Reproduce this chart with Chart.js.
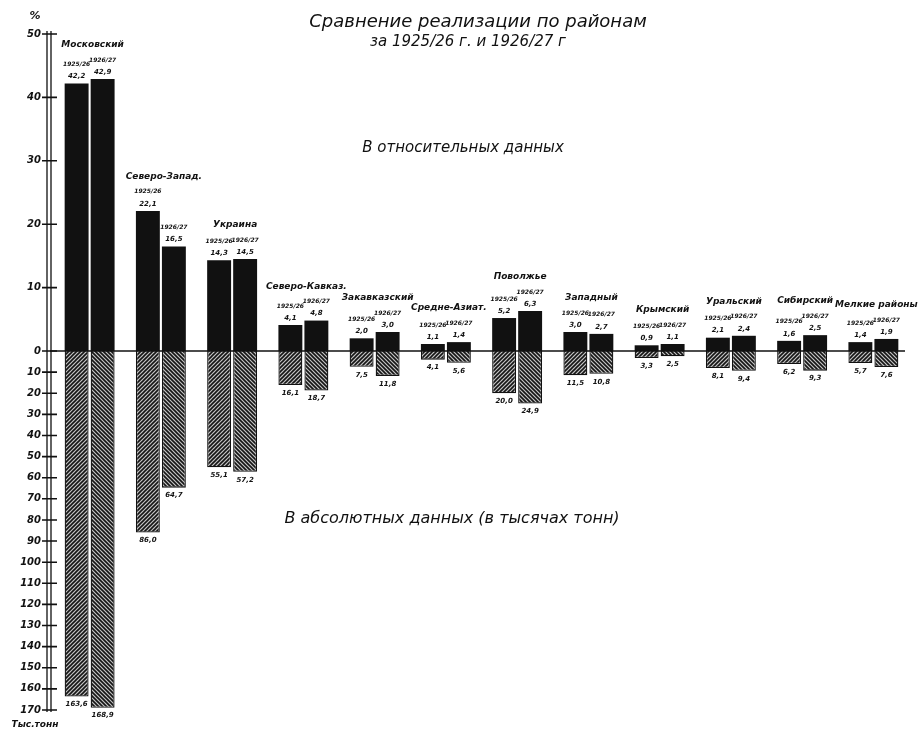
<!DOCTYPE html>
<html lang="ru">
<head>
<meta charset="utf-8">
<title>Сравнение реализации по районам</title>
<script src="https://cdn.jsdelivr.net/npm/chart.js@4.4.1/dist/chart.umd.min.js"></script>
<style>
  html, body { margin: 0; padding: 0; background: #fff; }
  #wrap { position: relative; width: 922px; height: 732px; }
</style>
</head>
<body>
<div id="wrap"><canvas id="chart"></canvas></div>
<script>
'use strict';

// районы
const regions = ['Московский', 'Северо-Запад.', 'Украина', 'Северо-Кавказ.', 'Закавказский', 'Средне-Азиат.',
  'Поволжье', 'Западный', 'Крымский', 'Уральский', 'Сибирский', 'Мелкие районы'];
const years = ['1925/26', '1926/27'];

// в относительных данных, %
const rel2526 = [42.2, 22.1, 14.3, 4.1, 2.0, 1.1, 5.2, 3.0, 0.9, 2.1, 1.6, 1.4];
const rel2627 = [42.9, 16.5, 14.5, 4.8, 3.0, 1.4, 6.3, 2.7, 1.1, 2.4, 2.5, 1.9];

// в абсолютных данных, тыс. тонн
const abs2526 = [163.6, 86.0, 55.1, 16.1, 7.5, 4.1, 20.0, 11.5, 3.3, 8.1, 6.2, 5.7];
const abs2627 = [168.9, 64.7, 57.2, 18.7, 11.8, 5.6, 24.9, 10.8, 2.5, 9.4, 9.3, 7.6];

const pctTicks = [0, 10, 20, 30, 40, 50];
const tonTicks = [0, 10, 20, 30, 40, 50, 60, 70, 80, 90, 100, 110, 120, 130, 140, 150, 160, 170];

const INK = '#111';
const FONT = '"DejaVu Sans", sans-serif';

function hatch(dir) {
  const c = document.createElement('canvas');
  c.width = c.height = 4;
  const g = c.getContext('2d');
  g.fillStyle = '#c4c4c4';
  g.fillRect(0, 0, 4, 4);
  g.strokeStyle = '#151515';
  g.lineWidth = 1.6;
  g.beginPath();
  if (dir > 0) {
    g.moveTo(-1, 5); g.lineTo(5, -1);
    g.moveTo(-1, 1); g.lineTo(1, -1);
    g.moveTo(3, 5); g.lineTo(5, 3);
  } else {
    g.moveTo(-1, -1); g.lineTo(5, 5);
    g.moveTo(3, -1); g.lineTo(5, 1);
    g.moveTo(-1, 3); g.lineTo(1, 5);
  }
  g.stroke();
  return g.createPattern(c, 'repeat');
}

const fmt = v => v.toFixed(1).replace('.', ',');

function text(ctx, str, x, y, font, align) {
  ctx.font = font;
  ctx.textAlign = align || 'center';
  ctx.textBaseline = 'middle';
  ctx.fillText(str, x, y);
}

const decor = {
  id: 'decor',
  afterDatasetsDraw(chart) {
    const { ctx, chartArea, scales } = chart;
    const yTop = scales.y, yBot = scales.y2;
    const zero = yTop.getPixelForValue(0);
    ctx.save();
    ctx.fillStyle = INK;
    ctx.strokeStyle = INK;

    // нулевая линия
    ctx.lineWidth = 1.6;
    ctx.beginPath();
    ctx.moveTo(chartArea.left - 4, zero);
    ctx.lineTo(chartArea.right - 4, zero);
    ctx.stroke();

    // двойная ось
    const ax = chartArea.left - 3;
    ctx.lineWidth = 1.3;
    ctx.beginPath();
    ctx.moveTo(ax - 4, yTop.top - 3); ctx.lineTo(ax - 4, yBot.bottom + 2);
    ctx.moveTo(ax, yTop.top - 3); ctx.lineTo(ax, yBot.bottom + 2);
    ctx.stroke();
    ctx.lineWidth = 1.6;
    ctx.beginPath();
    [yTop, yBot].forEach(s => s.ticks.forEach(t => {
      const py = s.getPixelForValue(t.value);
      ctx.moveTo(ax - 9, py); ctx.lineTo(ax + 6, py);
    }));
    ctx.stroke();

    // подписи столбиков
    const top1 = chart.getDatasetMeta(0).data, bot1 = chart.getDatasetMeta(1).data;
    const top2 = chart.getDatasetMeta(2).data, bot2 = chart.getDatasetMeta(3).data;
    regions.forEach((name, i) => {
      const bars = [[top1[i], bot1[i], rel2526[i], abs2526[i]], [top2[i], bot2[i], rel2627[i], abs2627[i]]];
      const hi = Math.min(top1[i].y, top2[i].y);
      const cx = (top1[i].x + top2[i].x) / 2 + 3;
      text(ctx, name, cx, hi - 34, 'italic bold 9px ' + FONT);
      bars.forEach(([tb, bb, rv, av], k) => {
        text(ctx, years[k], tb.x, tb.y - 19, 'italic bold 6px ' + FONT);
        text(ctx, fmt(rv), tb.x, tb.y - 7, 'italic bold 7px ' + FONT);
        text(ctx, fmt(av), bb.x, bb.y + 8, 'italic bold 7px ' + FONT);
      });
    });

    // надписи
    text(ctx, 'Сравнение реализации по районам', 478, 22, 'italic 18px ' + FONT);
    text(ctx, 'за 1925/26 г. и 1926/27 г', 468, 42, 'italic 15px ' + FONT);
    text(ctx, 'В относительных данных', 463, 148, 'italic 15px ' + FONT);
    text(ctx, 'В абсолютных данных (в тысячах тонн)', 452, 519, 'italic 16px ' + FONT);
    text(ctx, '%', 35, 16, 'italic bold 11px ' + FONT);
    text(ctx, 'Тыс.тонн', 35, 725, 'italic bold 9px ' + FONT);
    ctx.restore();
  }
};

const tickFont = { family: FONT, size: 10, style: 'italic', weight: 'bold' };

new Chart(document.getElementById('chart'), {
  type: 'bar',
  data: {
    labels: regions,
    datasets: [
      { label: years[0], data: rel2526, yAxisID: 'y', stack: 's1', backgroundColor: INK },
      { label: years[0], data: abs2526, yAxisID: 'y2', stack: 's1', backgroundColor: hatch(1), borderColor: INK, borderWidth: 1.3 },
      { label: years[1], data: rel2627, yAxisID: 'y', stack: 's2', backgroundColor: INK },
      { label: years[1], data: abs2627, yAxisID: 'y2', stack: 's2', backgroundColor: hatch(-1), borderColor: INK, borderWidth: 1.3 }
    ]
  },
  options: {
    responsive: true, maintainAspectRatio: false, animation: false,
    layout: { padding: { top: 34, bottom: 22, left: 0, right: 13 } },
    datasets: { bar: { categoryPercentage: 0.73, barPercentage: 0.92 } },
    plugins: { legend: { display: false }, tooltip: { enabled: false } },
    scales: {
      x: { display: false, stacked: true },
      y: {
        position: 'left', stack: 'v', stackWeight: 317, weight: 1, min: 0, max: 50,
        afterBuildTicks: s => { s.ticks = pctTicks.map(v => ({ value: v })); },
        afterFit: s => { s.width = 54; },
        ticks: { color: INK, font: tickFont, padding: 5, autoSkip: false },
        grid: { display: false }, border: { display: false }
      },
      y2: {
        position: 'left', stack: 'v', stackWeight: 359, weight: 0, min: 0, max: 170, reverse: true,
        afterBuildTicks: s => { s.ticks = tonTicks.map(v => ({ value: v })); },
        afterFit: s => { s.width = 54; },
        ticks: { color: INK, font: tickFont, padding: 5, autoSkip: false, callback: v => (v === 0 ? '' : v) },
        grid: { display: false }, border: { display: false }
      }
    }
  },
  plugins: [decor]
});
</script>
</body>
</html>
